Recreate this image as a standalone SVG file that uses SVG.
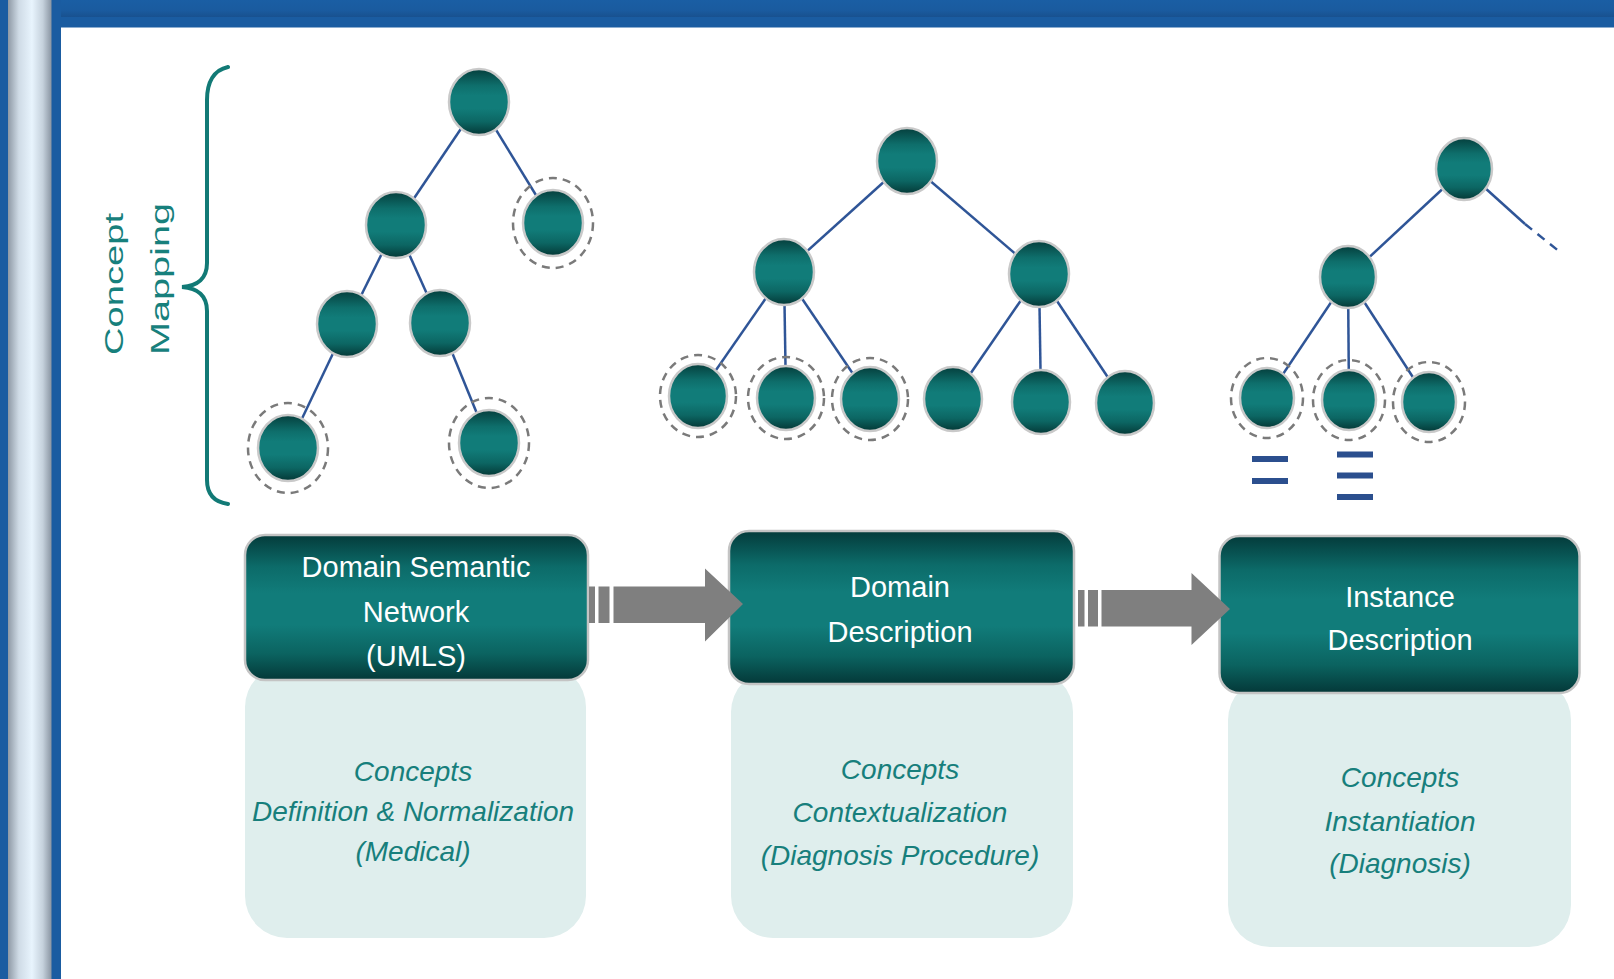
<svg xmlns="http://www.w3.org/2000/svg" width="1614" height="979" viewBox="0 0 1614 979">
<defs>
<linearGradient id="gNode" x1="0" y1="0" x2="0" y2="1">
<stop offset="0" stop-color="#053f3d"/>
<stop offset="0.25" stop-color="#0e6e6b"/>
<stop offset="0.4" stop-color="#117c79"/>
<stop offset="0.6" stop-color="#117c79"/>
<stop offset="0.8" stop-color="#0c6663"/>
<stop offset="1" stop-color="#043836"/>
</linearGradient>
<linearGradient id="gBox" x1="0" y1="0" x2="0" y2="1">
<stop offset="0" stop-color="#043b3b"/>
<stop offset="0.22" stop-color="#0c6b69"/>
<stop offset="0.4" stop-color="#117c7a"/>
<stop offset="0.62" stop-color="#117c7a"/>
<stop offset="0.82" stop-color="#0b6360"/>
<stop offset="1" stop-color="#043838"/>
</linearGradient>
<linearGradient id="gPillar" x1="0" y1="0" x2="1" y2="0">
<stop offset="0" stop-color="#8e99a5"/>
<stop offset="0.25" stop-color="#cfdbe6"/>
<stop offset="0.55" stop-color="#e8f4fd"/>
<stop offset="0.8" stop-color="#c5d1dc"/>
<stop offset="1" stop-color="#8a95a2"/>
</linearGradient>
<linearGradient id="gTop" x1="0" y1="0" x2="0" y2="1">
<stop offset="0" stop-color="#1a5ea4"/>
<stop offset="0.6" stop-color="#1a5b9f"/>
<stop offset="1" stop-color="#18518f"/>
</linearGradient>
<style>
.node{fill:url(#gNode);stroke:#c9c9c9;stroke-width:2.5}
.ring{fill:none;stroke:#7a7a7a;stroke-width:2.5;stroke-dasharray:8 6}
.edge{stroke:#2f5597;stroke-width:2.5;fill:none}
.box{fill:url(#gBox);stroke:#c4c4c4;stroke-width:2.5}
.panel{fill:#dfeeed}
.btxt{font-family:"Liberation Sans",Arial,sans-serif;font-size:29px;fill:#ffffff;text-anchor:middle}
.ptxt{font-family:"Liberation Sans",Arial,sans-serif;font-size:28px;font-style:italic;fill:#177f7c;text-anchor:middle}
.arrow{fill:#7f7f7f}
.eq{fill:#2b4f8e}
</style>
</defs>

<!-- frame -->
<rect x="0" y="0" width="1614" height="979" fill="#ffffff"/>
<rect x="0" y="0" width="1614" height="17" fill="url(#gTop)"/>
<rect x="0" y="17" width="1614" height="10.5" fill="#1a5ca1"/>
<rect x="0" y="0" width="61" height="979" fill="#1a5ca1"/>
<rect x="8" y="0" width="43.5" height="979" fill="url(#gPillar)"/>

<!-- Concept Mapping label and brace -->
<g id="concept-mapping">
<path d="M228,67 C214,70 207,82 207,100 L207,263 C207,278 198,286 182,287 C198,288 207,296 207,311 L207,480 C207,494 214,502 228,504" fill="none" stroke="#127a76" stroke-width="4" stroke-linecap="round"/>
<text transform="translate(123,284) rotate(-90)" font-family="'Liberation Sans',Arial,sans-serif" font-size="26" fill="#17807c" text-anchor="middle" textLength="142" lengthAdjust="spacingAndGlyphs">Concept</text>
<text transform="translate(169,279) rotate(-90)" font-family="'Liberation Sans',Arial,sans-serif" font-size="26" fill="#17807c" text-anchor="middle" textLength="152" lengthAdjust="spacingAndGlyphs">Mapping</text>
</g>

<!-- tree connectors -->
<g id="connectors">
<line class="edge" x1="479" y1="102" x2="396" y2="225"/>
<line class="edge" x1="479" y1="102" x2="553" y2="223"/>
<line class="edge" x1="396" y1="225" x2="347" y2="324"/>
<line class="edge" x1="396" y1="225" x2="440" y2="323"/>
<line class="edge" x1="347" y1="324" x2="288" y2="448"/>
<line class="edge" x1="440" y1="323" x2="489" y2="443"/>

<line class="edge" x1="907" y1="161" x2="784" y2="272"/>
<line class="edge" x1="907" y1="161" x2="1039" y2="274"/>
<line class="edge" x1="784" y1="272" x2="698" y2="396"/>
<line class="edge" x1="784" y1="272" x2="786" y2="398"/>
<line class="edge" x1="784" y1="272" x2="870" y2="399"/>
<line class="edge" x1="1039" y1="274" x2="953" y2="399"/>
<line class="edge" x1="1039" y1="274" x2="1041" y2="402"/>
<line class="edge" x1="1039" y1="274" x2="1125" y2="403"/>

<line class="edge" x1="1464" y1="169" x2="1348" y2="277"/>
<line class="edge" x1="1348" y1="277" x2="1267" y2="398"/>
<line class="edge" x1="1348" y1="277" x2="1349" y2="400"/>
<line class="edge" x1="1348" y1="277" x2="1429" y2="402"/>
<line class="edge" x1="1464" y1="169" x2="1525" y2="224"/>
<line class="edge" x1="1525" y1="224" x2="1560" y2="252" stroke-dasharray="9 7"/>
</g>

<!-- tree 1 nodes -->
<g id="t1-root"><ellipse class="node" cx="479" cy="102" rx="30" ry="33"/></g>
<g id="t1-a"><ellipse class="node" cx="396" cy="225" rx="30" ry="33"/></g>
<g id="t1-b"><ellipse class="ring" cx="553" cy="223" rx="40" ry="45"/><ellipse class="node" cx="553" cy="223" rx="30" ry="33"/></g>
<g id="t1-c"><ellipse class="node" cx="347" cy="324" rx="30" ry="33"/></g>
<g id="t1-d"><ellipse class="node" cx="440" cy="323" rx="30" ry="33"/></g>
<g id="t1-e"><ellipse class="ring" cx="288" cy="448" rx="40" ry="45"/><ellipse class="node" cx="288" cy="448" rx="30" ry="33"/></g>
<g id="t1-f"><ellipse class="ring" cx="489" cy="443" rx="40" ry="45"/><ellipse class="node" cx="489" cy="443" rx="30" ry="33"/></g>

<!-- tree 2 nodes -->
<g id="t2-root"><ellipse class="node" cx="907" cy="161" rx="30" ry="33"/></g>
<g id="t2-a"><ellipse class="node" cx="784" cy="272" rx="30" ry="33"/></g>
<g id="t2-b"><ellipse class="node" cx="1039" cy="274" rx="30" ry="33"/></g>
<g id="t2-c"><ellipse class="ring" cx="698" cy="396" rx="38" ry="41"/><ellipse class="node" cx="698" cy="396" rx="29" ry="32"/></g>
<g id="t2-d"><ellipse class="ring" cx="786" cy="398" rx="38" ry="41"/><ellipse class="node" cx="786" cy="398" rx="29" ry="32"/></g>
<g id="t2-e"><ellipse class="ring" cx="870" cy="399" rx="38" ry="41"/><ellipse class="node" cx="870" cy="399" rx="29" ry="32"/></g>
<g id="t2-f"><ellipse class="node" cx="953" cy="399" rx="29" ry="32"/></g>
<g id="t2-g"><ellipse class="node" cx="1041" cy="402" rx="29" ry="32"/></g>
<g id="t2-h"><ellipse class="node" cx="1125" cy="403" rx="29" ry="32"/></g>

<!-- tree 3 nodes -->
<g id="t3-root"><ellipse class="node" cx="1464" cy="169" rx="28" ry="31"/></g>
<g id="t3-a"><ellipse class="node" cx="1348" cy="277" rx="28" ry="31"/></g>
<g id="t3-b"><ellipse class="ring" cx="1267" cy="398" rx="36" ry="40"/><ellipse class="node" cx="1267" cy="398" rx="27" ry="30"/></g>
<g id="t3-c"><ellipse class="ring" cx="1349" cy="400" rx="36" ry="40"/><ellipse class="node" cx="1349" cy="400" rx="27" ry="30"/></g>
<g id="t3-d"><ellipse class="ring" cx="1429" cy="402" rx="36" ry="40"/><ellipse class="node" cx="1429" cy="402" rx="27" ry="30"/></g>
<g id="t3-equals">
<rect class="eq" x="1252" y="456" width="36" height="6"/>
<rect class="eq" x="1252" y="478" width="36" height="6"/>
<rect class="eq" x="1337" y="451.5" width="36" height="6"/>
<rect class="eq" x="1337" y="472.5" width="36" height="6"/>
<rect class="eq" x="1337" y="494" width="36" height="6"/>
</g>

<!-- stage 1 -->
<g id="stage-1">
<rect class="panel" x="245" y="665" width="341" height="273" rx="42"/>
<rect class="box" x="245" y="535" width="343" height="145" rx="20"/>
<text class="btxt" x="416" y="577">Domain Semantic</text>
<text class="btxt" x="416" y="622">Network</text>
<text class="btxt" x="416" y="666">(UMLS)</text>
<text class="ptxt" x="413" y="781">Concepts</text>
<text class="ptxt" x="413" y="821" font-size="27.5">Definition &amp; Normalization</text>
<text class="ptxt" x="413" y="861">(Medical)</text>
</g>

<!-- stage 2 -->
<g id="stage-2">
<rect class="panel" x="731" y="670" width="342" height="268" rx="42"/>
<rect class="box" x="729" y="531" width="345" height="153" rx="20"/>
<text class="btxt" x="900" y="597">Domain</text>
<text class="btxt" x="900" y="642">Description</text>
<text class="ptxt" x="900" y="779">Concepts</text>
<text class="ptxt" x="900" y="822">Contextualization</text>
<text class="ptxt" x="900" y="865">(Diagnosis Procedure)</text>
</g>

<!-- stage 3 -->
<g id="stage-3">
<rect class="panel" x="1228" y="678" width="343" height="269" rx="42"/>
<rect class="box" x="1219.5" y="536" width="360" height="157" rx="20"/>
<text class="btxt" x="1400" y="607">Instance</text>
<text class="btxt" x="1400" y="650">Description</text>
<text class="ptxt" x="1400" y="787">Concepts</text>
<text class="ptxt" x="1400" y="831">Instantiation</text>
<text class="ptxt" x="1400" y="873">(Diagnosis)</text>
</g>

<!-- flow arrows (drawn over box edges) -->
<g id="flow-connectors">
<g id="arrow-1">
<rect class="arrow" x="589" y="586.5" width="6" height="36.5"/>
<rect class="arrow" x="598.5" y="586.5" width="11" height="36.5"/>
<polygon class="arrow" points="613.5,586.5 705,586.5 705,568.5 743,604 705,641.5 705,623 613.5,623"/>
</g>
<g id="arrow-2">
<rect class="arrow" x="1078" y="590" width="6.5" height="36.5"/>
<rect class="arrow" x="1088" y="590" width="10" height="36.5"/>
<polygon class="arrow" points="1101.5,590 1191.5,590 1191.5,573 1230,609 1191.5,645 1191.5,626.5 1101.5,626.5"/>
</g>
</g>
</svg>
